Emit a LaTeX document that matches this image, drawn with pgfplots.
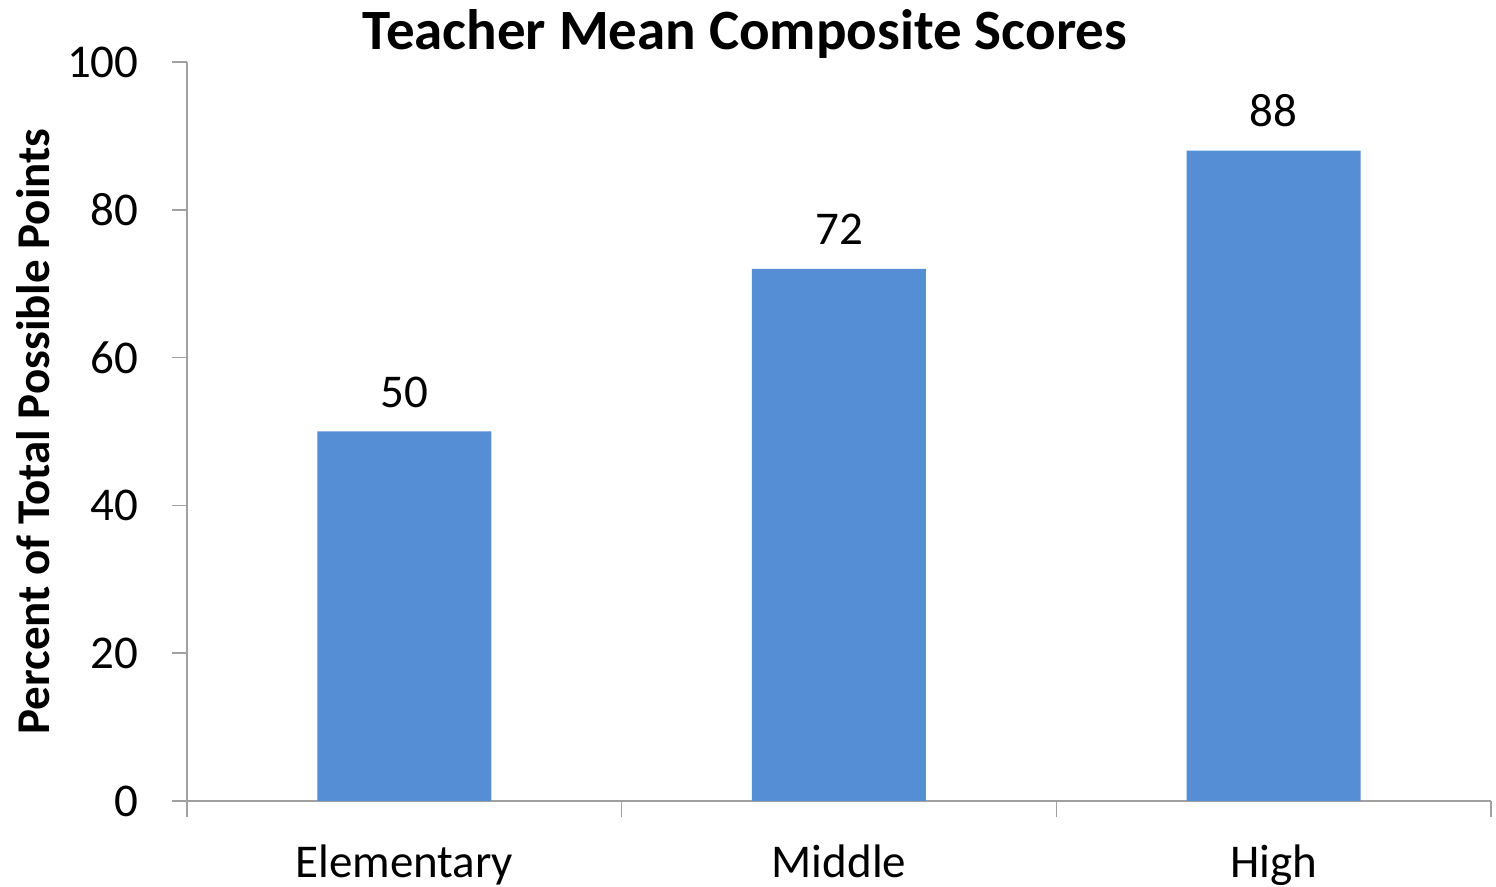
\documentclass[border=0pt]{standalone}
\usepackage{fontspec}
\setmainfont{Carlito}
\usepackage{pgfplots}
\pgfplotsset{compat=1.18}
\definecolor{barblue}{HTML}{558ED5}
\definecolor{axisgray}{HTML}{A0A0A0}
\begin{document}
\begin{tikzpicture}
\begin{axis}[
  scale only axis,
  width=652pt, height=369.5pt,
  xmin=-0.5, xmax=2.5,
  ymin=0, ymax=100,
  ytick={0,20,40,60,80,100},
  xtick={0,1,2},
  xticklabels={Elementary,Middle,High},
  minor xtick={-0.5,0.5,1.5,2.5},
  xtick style={draw=none},
  minor x tick style={draw=axisgray, line width=0.75pt},
  ytick style={draw=axisgray, line width=0.75pt},
  major tick length=7.5pt, minor tick length=8pt,
  tick align=outside,
  axis x line*=bottom, axis y line*=left,
  axis line style={draw=axisgray, line width=0.75pt, -},
  /pgf/number format/assume math mode=true,
  tick label style={font=\fontsize{23.5}{25}\selectfont},
  yticklabel style={anchor=east, inner sep=0pt, xshift=-16.5pt},
  xticklabel style={anchor=base, inner sep=0pt, yshift=-31pt},
  ybar, bar width=87pt,
  title={\textbf{Teacher Mean Composite Scores}},
  title style={at={(axis description cs:0.4279,1.0162)}, anchor=base, inner sep=0pt, yshift=-5.5pt, font=\fontsize{28.5}{30}\selectfont},
  ylabel={\textbf{Percent of Total Possible Points}},
  ylabel style={at={([xshift=-68.5pt]axis description cs:0,0.5)}, anchor=base, rotate=0, inner sep=0pt, font=\fontsize{23.5}{25}\selectfont},
  nodes near coords,
  nodes near coords style={anchor=base, inner sep=0pt, yshift=12pt, font=\fontsize{23.5}{25}\selectfont, text=black},
  clip=false,
]
\addplot[fill=barblue, draw=none] coordinates {(0,50) (1,72) (2,88)};
\end{axis}
\pgfresetboundingbox
\path (-93.5pt,-43pt) rectangle (654.5pt,400.5pt);
\end{tikzpicture}
\end{document}
